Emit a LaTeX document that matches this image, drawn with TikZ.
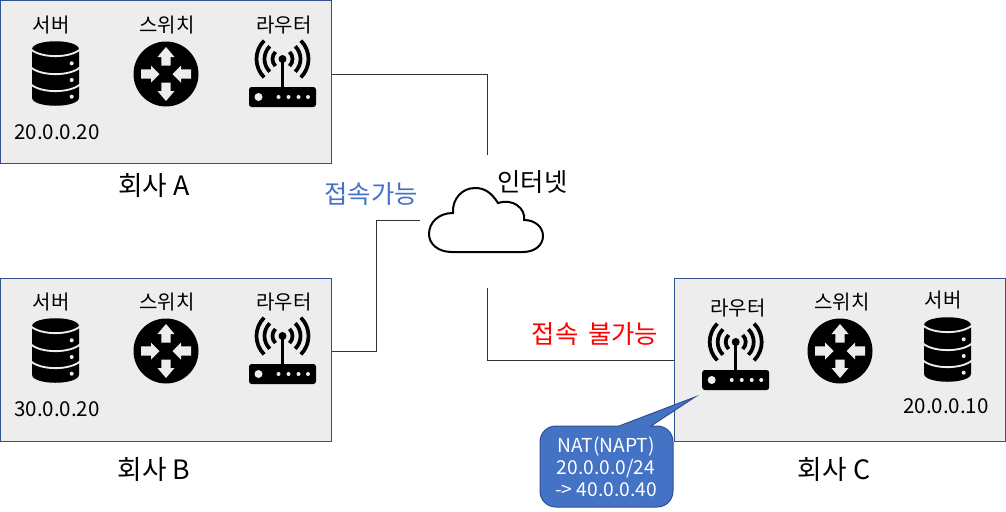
\documentclass[tikz,border=0pt]{standalone}
\usepackage{fontspec}
\setmainfont{Noto Sans CJK KR}
\usepackage{xcolor}
\usetikzlibrary{positioning,arrows.meta,calc}
\definecolor{boxgray}{RGB}{237,237,237}
\definecolor{boxblue}{RGB}{47,82,143}
\definecolor{natblue}{RGB}{68,114,196}
\definecolor{okblue}{RGB}{68,114,196}
\tikzset{
  company/.style={rectangle, draw=boxblue, line width=0.75pt, fill=boxgray, minimum width=248.25pt, minimum height=122.6pt, inner sep=0pt},
  devlabel/.style={font=\fontsize{15}{17}\selectfont, inner sep=0pt},
  addrlabel/.style={font=\fontsize{15.4}{18}\selectfont, inner sep=0pt},
  namelabel/.style={font=\fontsize{20}{22}\selectfont, inner sep=0pt},
  statelabel/.style={font=\fontsize{19}{22}\selectfont, inner sep=0pt},
  link/.style={draw=black!80, line width=0.75pt},
  server/.pic={
    \fill[black] (-23.5,-24) .. controls (-23.5,-35) and (23.5,-35) .. (23.5,-24) -- (23.5,24)
      .. controls (23.5,35) and (-23.5,35) .. (-23.5,24) -- cycle;
    \foreach \g in {-23.5,-5.5,11.5}
      \draw[boxgray, line width=1.4pt] (-25,\g-1) .. controls (-15,\g+8.5) and (15,\g+8.5) .. (25,\g-1);
    \foreach \d in {-10.2,6.5,23.2}
      \fill[boxgray] (16.2,\d) circle (2);
  },
  switch/.pic={
    \fill[black] (0,0) circle (32.5);
    \foreach \a in {0,180}
      \fill[boxgray, rotate=\a] (-4.7,-8.5) -- (-4.7,-17) -- (-8.5,-17) -- (0,-27) -- (8.5,-17) -- (4.7,-17) -- (4.7,-8.5) -- cycle;
    \foreach \a in {90,270}
      \fill[boxgray, rotate=\a] (-4.7,-25) -- (-4.7,-15) -- (-8.5,-15) -- (0,-6.5) -- (8.5,-15) -- (4.7,-15) -- (4.7,-25) -- cycle;
  },
  router/.pic={
    \fill[black, rounded corners=2pt] (-33.5,13) rectangle (33.5,33);
    \draw[black, line width=2.2pt] (0,-15) -- (0,13);
    \fill[black] (0,-15) circle (4);
    \foreach \r in {10,18,26}{
      \draw[black, line width=2.8pt] (0,-15) ++(-45:\r) arc (-45:45:\r);
      \draw[black, line width=2.8pt] (0,-15) ++(135:\r) arc (135:225:\r);
    }
    \fill[boxgray] (-24,23) circle (4);
    \foreach \d in {-4,6,16,25.5}
      \fill[boxgray] (\d,23) circle (2);
  },
}
\begin{document}
\begin{tikzpicture}[x=0.75pt, y=-0.75pt]
  \useasboundingbox (0,0) rectangle (1006,511);

  \node[company] (boxA) at (166,82) {};
  \node[company] (boxB) at (166,360) {};
  \node[company] (boxC) at (840,360) {};

  % icons
  \coordinate (routerA) at (282.5,74);
  \coordinate (routerB) at (282.5,351);
  \coordinate (routerC) at (735.7,357);
  \pic at (55.5,73.5) {server};
  \pic at (166,74) {switch};
  \pic at (routerA) {router};
  \pic at (55.5,350.5) {server};
  \pic at (166,351) {switch};
  \pic at (routerB) {router};
  \pic at (routerC) {router};
  \pic at (840,351) {switch};
  \pic at (947.5,349.5) {server};

  % labels
  \node[devlabel] (srvA) at (51,25) {서버};
  \node[devlabel] (swA) at (167,25) {스위치};
  \node[devlabel] (rtA) at (284,25) {라우터};
  \node[addrlabel] (ipA) at (57,132) {20.0.0.20};
  \node[namelabel] (nameA) at (154,186) {회사 A};
  \node[devlabel] (srvB) at (51,302) {서버};
  \node[devlabel] (swB) at (167,302) {스위치};
  \node[devlabel] (rtB) at (284,302) {라우터};
  \node[addrlabel] (ipB) at (57,409) {30.0.0.20};
  \node[namelabel] (nameB) at (154,470) {회사 B};
  \node[devlabel] (rtC) at (738,308) {라우터};
  \node[devlabel] (swC) at (842,302) {스위치};
  \node[devlabel] (srvC) at (943,300) {서버};
  \node[addrlabel] (ipC) at (946,406) {20.0.0.10};
  \node[namelabel] (nameC) at (834,470) {회사 C};

  % cloud
  \draw[black, line width=1.5pt, fill=white] (452,252) -- (523,252)
    .. controls (535,252) and (543,245) .. (543,236)
    .. controls (543,227) and (535,220) .. (524,220)
    .. controls (526,208) and (512,198) .. (498,203)
    .. controls (491,192) and (484,188) .. (475,188)
    .. controls (462,188) and (452,199) .. (453,213)
    .. controls (438,213) and (429,223) .. (429,234)
    .. controls (429,244) and (438,252) .. (452,252) -- cycle;
  \node[statelabel] (inet) at (532.5,182) {인터넷};

  % links
  \coordinate (inetA) at (487,155);
  \coordinate (inetB) at (420,220);
  \coordinate (inetC) at (487,288);
  \draw[link] (routerA -| boxA.east) -| (inetA);
  \draw[link] (routerB -| boxB.east) -- ++(44,0) |- (inetB);
  \draw[link] (inetC) |- (boxC.west);
  \node[statelabel, text=okblue] (okB) at (371,194) {접속가능};
  \node[statelabel, text=red] (failC) at (595,334) {접속\kern3pt{} 불가능};

  % callout
  \draw[boxblue, line width=0.75pt, fill=natblue] (619,426) -- (695,397) -- (651,426) -- (657,426)
    .. controls (666,426) and (673,433) .. (673,442) -- (673,491)
    .. controls (673,500) and (666,507) .. (657,507) -- (556,507)
    .. controls (547,507) and (540,500) .. (540,491) -- (540,442)
    .. controls (540,433) and (547,426) .. (556,426) -- cycle;
  \node[align=center, text=white, font=\fontsize{14.4}{16.5}\selectfont, inner sep=0pt] (nat) at (606,467) {NAT(NAPT)\\20.0.0.0/24\\-> 40.0.0.40};
\end{tikzpicture}
\end{document}
